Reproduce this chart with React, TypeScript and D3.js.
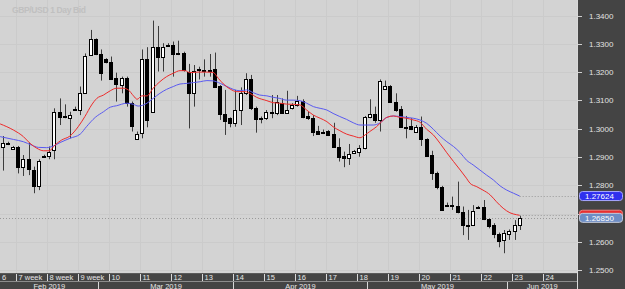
import * as d3 from "d3";

const W = 625;
const H = 289;
const PLOT_R = 577;
const AXIS_TOP = 273;
const ROW_SPLIT = 281;

// daily GBP/USD bars (Sunday bars included)
const opens = [
  1.2934, 1.2949, 1.2929, 1.2937, 1.2864, 1.2892, 1.2854, 1.2798, 1.2905, 1.2905,
  1.2925, 1.3058, 1.3045, 1.3039, 1.3071, 1.3066, 1.3125, 1.3259, 1.3316, 1.3263,
  1.3245, 1.3237, 1.3178, 1.3154, 1.3178, 1.3090, 1.2964, 1.2986, 1.3245, 1.3060,
  1.3288, 1.3255, 1.3296, 1.3296, 1.3264, 1.3269, 1.3202, 1.3127, 1.3207, 1.3205,
  1.3208, 1.3210, 1.3151, 1.3052, 1.3037, 1.3019, 1.3066, 1.3127, 1.3174, 1.3072,
  1.3037, 1.3037, 1.3060, 1.3057, 1.3092, 1.3054, 1.3072, 1.3084, 1.3099, 1.3045,
  1.3037, 1.2992, 1.2990, 1.2993, 1.2981, 1.2937, 1.2905, 1.2895, 1.2915, 1.2919,
  1.2933, 1.3040, 1.3052, 1.3031, 1.3139, 1.3151, 1.3096, 1.3068, 1.3007, 1.3010,
  1.2990, 1.3007, 1.2962, 1.2907, 1.2845, 1.2795, 1.2730, 1.2731, 1.2727, 1.2707,
  1.2660, 1.2660, 1.2725, 1.2722, 1.2680, 1.2660, 1.2628, 1.2607, 1.2628, 1.2640,
  1.2660,
];
const highs = [
  1.2974, 1.2954, 1.2939, 1.2939, 1.2907, 1.2951, 1.2866, 1.2892, 1.2908, 1.2937,
  1.3072, 1.3107, 1.3086, 1.3060, 1.3078, 1.3149, 1.3266, 1.3349, 1.3319, 1.3280,
  1.3249, 1.3255, 1.3198, 1.3184, 1.3184, 1.3096, 1.2990, 1.3280, 1.3288, 1.3382,
  1.3363, 1.3302, 1.3302, 1.3308, 1.3311, 1.3272, 1.3229, 1.3225, 1.3219, 1.3245,
  1.3264, 1.3269, 1.3154, 1.3137, 1.3040, 1.3137, 1.3146, 1.3196, 1.3190, 1.3078,
  1.3043, 1.3066, 1.3119, 1.3119, 1.3107, 1.3134, 1.3090, 1.3116, 1.3104, 1.3060,
  1.3048, 1.3010, 1.2997, 1.2995, 1.3021, 1.2966, 1.2919, 1.2946, 1.2925, 1.2942,
  1.3045, 1.3104, 1.3078, 1.3174, 1.3170, 1.3154, 1.3125, 1.3080, 1.3045, 1.3037,
  1.3013, 1.3043, 1.2966, 1.2922, 1.2848, 1.2798, 1.2739, 1.2760, 1.2813, 1.2725,
  1.2713, 1.2730, 1.2727, 1.2748, 1.2683, 1.2666, 1.2633, 1.2642, 1.2644, 1.2677,
  1.2692,
];
const lows = [
  1.2852, 1.2942, 1.2925, 1.2842, 1.2833, 1.2836, 1.2772, 1.2783, 1.2901, 1.2892,
  1.2892, 1.3013, 1.3037, 1.2966, 1.3064, 1.3048, 1.3123, 1.3257, 1.3260, 1.3170,
  1.3231, 1.3172, 1.3096, 1.3125, 1.3078, 1.2990, 1.2960, 1.2966, 1.3005, 1.3058,
  1.3202, 1.3202, 1.3290, 1.3184, 1.3260, 1.3202, 1.3001, 1.3078, 1.3174, 1.3184,
  1.3184, 1.3146, 1.3031, 1.2978, 1.3005, 1.3007, 1.3013, 1.3119, 1.3066, 1.2986,
  1.3019, 1.3031, 1.3037, 1.3048, 1.3052, 1.3052, 1.3068, 1.3078, 1.3037, 1.3031,
  1.2974, 1.2978, 1.2981, 1.2974, 1.2933, 1.2884, 1.2864, 1.2872, 1.2911, 1.2901,
  1.2927, 1.3037, 1.3021, 1.2990, 1.3137, 1.3092, 1.3060, 1.3005, 1.2966, 1.2995,
  1.2986, 1.2939, 1.2901, 1.2819, 1.2786, 1.2710, 1.2725, 1.2713, 1.2701, 1.2624,
  1.2607, 1.2656, 1.2718, 1.2677, 1.2648, 1.2613, 1.2581, 1.2560, 1.2607, 1.2607,
  1.2642,
];
const closes = [
  1.2948, 1.2948, 1.2937, 1.2864, 1.2892, 1.2856, 1.2798, 1.2887, 1.2904, 1.2919,
  1.3058, 1.3043, 1.3040, 1.3048, 1.3066, 1.3125, 1.3257, 1.3316, 1.3263, 1.3198,
  1.3237, 1.3174, 1.3158, 1.3178, 1.3090, 1.3010, 1.2980, 1.3245, 1.3031, 1.3288,
  1.3255, 1.3288, 1.3295, 1.3264, 1.3269, 1.3207, 1.3127, 1.3205, 1.3212, 1.3206,
  1.3207, 1.3149, 1.3052, 1.3028, 1.3021, 1.3066, 1.3125, 1.3174, 1.3072, 1.3033,
  1.3036, 1.3060, 1.3054, 1.3096, 1.3054, 1.3066, 1.3084, 1.3099, 1.3043, 1.3037,
  1.2990, 1.2981, 1.2989, 1.2978, 1.2934, 1.2901, 1.2895, 1.2911, 1.2922, 1.2933,
  1.3040, 1.3052, 1.3031, 1.3170, 1.3151, 1.3096, 1.3066, 1.3007, 1.3006, 1.2998,
  1.3007, 1.2962, 1.2904, 1.2845, 1.2795, 1.2713, 1.2729, 1.2730, 1.2707, 1.2660,
  1.2659, 1.2710, 1.2721, 1.2680, 1.2656, 1.2628, 1.2604, 1.2630, 1.2640, 1.2660,
  1.2685,
];

// moving averages, sampled along the curves: [bar index, price]
const redMA: [number, number][] = [
  [-0.5, 1.3017], [2.1, 1.2995], [4.0, 1.2972], [5.3, 1.2948], [6.6, 1.2931],
  [7.9, 1.2922], [9.0, 1.2922], [10.1, 1.2942], [11.4, 1.296], [13.0, 1.2974],
  [14.6, 1.3007], [15.9, 1.3043], [17.2, 1.3084], [18.2, 1.3107], [19.5, 1.3119],
  [20.8, 1.3134], [22.0, 1.3143], [23.3, 1.3143], [24.3, 1.3137], [25.3, 1.3116],
  [26.0, 1.3104], [26.9, 1.3116], [27.9, 1.3116], [29.1, 1.3143], [30.4, 1.3166],
  [31.7, 1.3184], [33.0, 1.3196], [34.3, 1.3205], [35.3, 1.3205], [36.2, 1.3198],
  [37.8, 1.32], [39.5, 1.32], [40.7, 1.3199], [41.7, 1.3178], [42.7, 1.3158],
  [44.0, 1.314], [45.3, 1.3131], [46.9, 1.3131], [47.8, 1.3125], [49.1, 1.3111],
  [51.1, 1.3099], [52.3, 1.3092], [53.6, 1.309], [54.9, 1.3087], [56.2, 1.3086],
  [57.5, 1.3084], [58.8, 1.3066], [60.1, 1.3048], [61.4, 1.3037], [62.7, 1.3025],
  [63.9, 1.3007], [65.2, 1.2993], [66.5, 1.2981], [67.8, 1.2974], [69.1, 1.2968],
  [70.1, 1.2978], [71.0, 1.299], [72.3, 1.3007], [73.3, 1.3025], [74.3, 1.304],
  [75.6, 1.3045], [76.8, 1.304], [78.1, 1.3037], [79.4, 1.3031], [80.7, 1.3023],
  [82.0, 1.2998], [83.3, 1.2978], [84.6, 1.2948], [85.9, 1.2915], [87.2, 1.2884],
  [88.5, 1.2854], [89.7, 1.2825], [90.4, 1.2807], [91.7, 1.2795], [92.9, 1.2783],
  [94.3, 1.2766], [95.5, 1.2742], [96.8, 1.2719], [98.1, 1.2703], [99.4, 1.2696],
  [100, 1.2694],
];
const blueMA: [number, number][] = [
  [-0.5, 1.2972], [2.1, 1.2962], [4.0, 1.2954], [5.6, 1.2942], [6.9, 1.2934],
  [8.5, 1.2933], [9.8, 1.2939], [11.1, 1.2951], [13.0, 1.2966], [15.0, 1.2981],
  [16.2, 1.3007], [17.9, 1.304], [19.5, 1.306], [20.8, 1.3076], [22.0, 1.3081],
  [24.0, 1.309], [25.3, 1.3086], [26.2, 1.308], [27.9, 1.309], [29.1, 1.3107],
  [30.4, 1.3125], [31.7, 1.3139], [33.0, 1.3149], [34.3, 1.3158], [35.6, 1.316],
  [36.9, 1.3163], [38.2, 1.3166], [39.5, 1.317], [40.7, 1.3169], [42.1, 1.316],
  [43.4, 1.3149], [44.6, 1.3139], [45.9, 1.3134], [47.2, 1.3137], [48.5, 1.3127],
  [49.7, 1.3119], [51.1, 1.3116], [52.3, 1.3111], [53.6, 1.3107], [54.9, 1.3101],
  [56.2, 1.3101], [57.5, 1.3099], [58.8, 1.309], [60.1, 1.3078], [61.4, 1.3072],
  [62.7, 1.3066], [63.9, 1.3054], [65.2, 1.3043], [66.5, 1.3033], [67.8, 1.3021],
  [69.1, 1.3013], [70.4, 1.3013], [71.7, 1.3013], [73.0, 1.3021], [74.3, 1.304],
  [75.6, 1.3045], [76.8, 1.3043], [78.1, 1.304], [79.4, 1.3037], [80.7, 1.3031],
  [82.0, 1.3019], [83.3, 1.2998], [84.6, 1.2974], [85.9, 1.2954], [87.2, 1.2937],
  [88.5, 1.2915], [89.7, 1.2889], [91.0, 1.2872], [92.3, 1.2854], [93.6, 1.2836],
  [94.9, 1.2819], [96.2, 1.2798], [97.5, 1.2783], [98.8, 1.2772], [100, 1.2762],
];

const priceTicks = [1.25, 1.26, 1.27, 1.28, 1.29, 1.3, 1.31, 1.32, 1.33, 1.34];
const weekStarts = [3, 9, 15, 21, 27, 33, 39, 45, 51, 57, 63, 69, 75, 81, 87, 93, 99, 105];
const weekLabels = [
  "7 week", "8 week", "9 week", "10", "11", "12", "13", "14", "15",
  "16", "17", "18", "19", "20", "21", "22", "23", "24",
];
const monthStarts = [19, 45, 71, 98];
const monthLabels = ["Feb 2019", "Mar 2019", "Apr 2019", "May 2019", "Jun 2019"];

const bidPrice = 1.2685;
const blueLast = "1.27624";
const bidLabel = "1.26850";

const FONT = "'Liberation Sans', Arial, sans-serif";

export default function App() {
  const xs = d3.scaleLinear().domain([0, 100]).range([2.7, 519.7]);
  const ys = d3.scaleLinear().domain([1.25, 1.34]).range([270.2, 15.5]);
  const half = (xs(1) - xs(0)) / 2;
  const sep = (i: number) => Math.round(xs(i) - half) + 0.5;
  const py = (p: number) => Math.round(ys(p)) + 0.5;

  const maLine = d3
    .line<[number, number]>()
    .x((d) => xs(d[0]))
    .y((d) => ys(d[1]))
    .curve(d3.curveMonotoneX);

  const lastX = xs(opens.length - 1);
  const redEnd = redMA[redMA.length - 1][1];
  const blueEnd = blueMA[blueMA.length - 1][1];

  const bounds = [0, ...monthStarts.map(sep), PLOT_R];

  // tick labels hidden under the price tags are not drawn
  const tagYs = [ys(redEnd), ys(blueEnd), ys(bidPrice)];
  const hidden = (p: number) => tagYs.some((t) => Math.abs(t - ys(p)) < 9);

  // price tag on the right axis; the red one sits mostly behind the bid tag
  const tag = (p: number, fill: string, stroke: string, text: string | null) => {
    const cy = ys(p);
    return (
      <g>
        <rect x={579.5} y={cy - 4.5} width={43} height={9} rx={3} fill={fill} stroke={stroke} strokeWidth={1} />
        {text && (
          <text x={585} y={cy + 3} fontSize={8} fill="#ffffff" fontFamily={FONT}>
            {text}
          </text>
        )}
      </g>
    );
  };

  return (
    <svg
      width={W}
      height={H}
      style={{ position: "fixed", left: 0, top: 0, display: "block" }}
    >
      <rect x={0} y={0} width={W} height={H} fill="#d3d3d3" />

      {/* grid */}
      {priceTicks.map((p) => (
        <line key={"h" + p} x1={0} x2={PLOT_R} y1={py(p)} y2={py(p)} stroke="#cbcbcb" />
      ))}
      {weekStarts
        .filter((i) => sep(i) < PLOT_R)
        .map((i) => (
          <line key={"v" + i} x1={sep(i)} x2={sep(i)} y1={0} y2={AXIS_TOP} stroke="#cbcbcb" />
        ))}

      <text x={12} y={13} fontSize={8.5} fontWeight="bold" fill="#c0c0c0" fontFamily={FONT} textLength={74}>
        GBP/USD  1 Day Bid
      </text>

      {/* bid line and MA extensions */}
      <line x1={0} x2={PLOT_R} y1={py(bidPrice)} y2={py(bidPrice)} stroke="#9a9a9a" strokeDasharray="1,2" />
      <line x1={lastX} x2={PLOT_R} y1={py(blueEnd)} y2={py(blueEnd)} stroke="#9a9a9a" strokeDasharray="1,2" />
      <line x1={lastX} x2={PLOT_R} y1={py(redEnd)} y2={py(redEnd)} stroke="#9a9a9a" strokeDasharray="1,2" />

      {/* candles */}
      {opens.map((o, i) => {
        const c = closes[i];
        const px = Math.round(xs(i));
        const top = py(Math.max(o, c));
        const bot = py(Math.min(o, c));
        const up = c > o;
        return (
          <g key={"c" + i}>
            <line x1={px + 0.5} x2={px + 0.5} y1={ys(highs[i])} y2={ys(lows[i])} stroke="#3c3c3c" />
            <rect
              x={px - 1.5}
              y={top}
              width={3}
              height={Math.max(1, bot - top)}
              fill={up ? "#ffffff" : "#000000"}
              stroke="#000000"
            />
          </g>
        );
      })}

      {/* moving averages */}
      <path d={maLine(blueMA) ?? ""} fill="none" stroke="#5a5af0" strokeWidth={1} />
      <path d={maLine(redMA) ?? ""} fill="none" stroke="#ee2a2a" strokeWidth={1} />

      {/* right price axis */}
      <rect x={PLOT_R + 1} y={0} width={W - PLOT_R - 1} height={H} fill="#444444" />
      <line x1={PLOT_R + 0.5} x2={PLOT_R + 0.5} y1={0} y2={H} stroke="#d9d9d9" />
      {priceTicks.map((p) => (
        <g key={"t" + p}>
          <line x1={PLOT_R + 1} x2={PLOT_R + 5} y1={py(p)} y2={py(p)} stroke="#d0d0d0" />
          {!hidden(p) && (
            <text x={589} y={ys(p) + 3} fontSize={8} fill="#e2e2e2" fontFamily={FONT}>
              {p.toFixed(4)}
            </text>
          )}
        </g>
      ))}
      {tag(redEnd + 0.0002, "#e83030", "#f08080", null)}
      {tag(blueEnd, "#3030ee", "#a8a8ff", blueLast)}
      {tag(bidPrice, "#6d8dc4", "#c4ccdc", bidLabel)}

      {/* bottom time axis */}
      <rect x={0} y={AXIS_TOP} width={PLOT_R + 1} height={H - AXIS_TOP} fill="#444444" />
      <line x1={0} x2={PLOT_R} y1={AXIS_TOP + 0.5} y2={AXIS_TOP + 0.5} stroke="#5a5a5a" />
      <line x1={0} x2={PLOT_R} y1={ROW_SPLIT + 0.5} y2={ROW_SPLIT + 0.5} stroke="#8c8c8c" />
      <text x={2} y={280} fontSize={7.5} fill="#e6e6e6" fontFamily={FONT}>
        6
      </text>
      {weekStarts.map((i, k) => {
        const x = sep(i);
        if (x > PLOT_R) return null;
        return (
          <g key={"w" + i}>
            <line x1={x} x2={x} y1={AXIS_TOP + 1} y2={ROW_SPLIT} stroke="#d8d8d8" />
            <text x={x + 2} y={280} fontSize={7.5} fill="#e6e6e6" fontFamily={FONT}>
              {weekLabels[k]}
            </text>
          </g>
        );
      })}
      {monthStarts.map((i) => (
        <line key={"m" + i} x1={sep(i)} x2={sep(i)} y1={ROW_SPLIT + 1} y2={H} stroke="#d8d8d8" />
      ))}
      {monthLabels.map((m, k) => (
        <text
          key={m}
          x={(bounds[k] + bounds[k + 1]) / 2}
          y={288.5}
          fontSize={7.5}
          fill="#e6e6e6"
          textAnchor="middle"
          fontFamily={FONT}
        >
          {m}
        </text>
      ))}
      <line x1={PLOT_R + 0.5} x2={PLOT_R + 0.5} y1={AXIS_TOP} y2={H} stroke="#d9d9d9" />
    </svg>
  );
}
